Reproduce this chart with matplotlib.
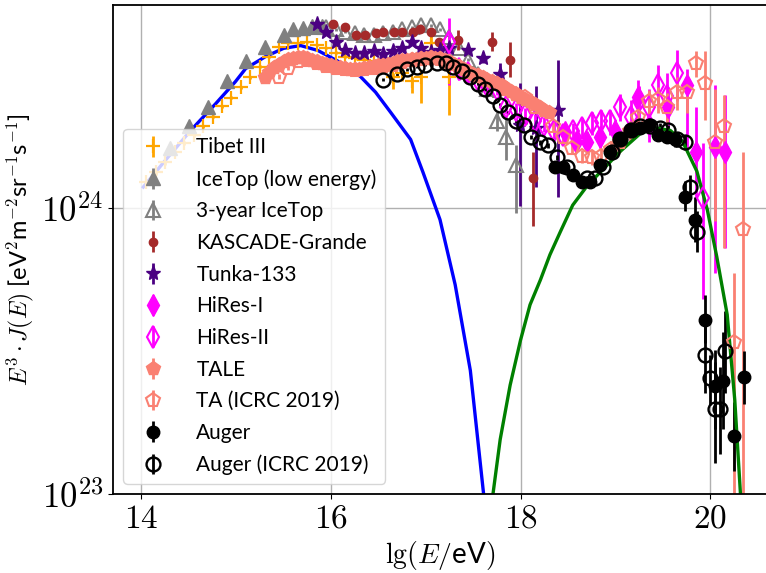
import numpy as np
import matplotlib
matplotlib.use('Agg')
import matplotlib.pyplot as plt

plt.rcParams['mathtext.fontset'] = 'cm'
plt.rcParams['font.family'] = ['Lato', 'DejaVu Sans']

S = 1e24  # values below are in units of 1e24 eV^2 m^-2 sr^-1 s^-1

# ---------------- data ----------------
tibet_lgE = [14.05, 14.15, 14.25, 14.35, 14.45, 14.55, 14.65, 14.75, 14.85, 14.95, 15.05, 15.15,
             15.25, 15.35, 15.45, 15.55, 15.65, 15.75, 15.85, 15.95, 16.05, 16.15, 16.25, 16.35,
             16.45, 16.55, 16.65, 16.75, 16.85, 16.95, 17.05, 17.25]
tibet_val = [1.23, 1.33, 1.44, 1.56, 1.68, 1.80, 1.92, 2.08, 2.26, 2.42, 2.63, 2.85,
             3.11, 3.37, 3.65, 3.77, 3.77, 3.80, 3.71, 3.62, 3.48, 3.37, 3.34, 3.29,
             3.24, 3.14, 2.85, 2.96, 2.76, 2.87, 3.77, 2.85]
tibet_lo = [0.03, 0.03, 0.03, 0.03, 0.03, 0.03, 0.03, 0.03, 0.03, 0.03, 0.03, 0.03,
            0.03, 0.03, 0.03, 0.03, 0.03, 0.03, 0.03, 0.03, 0.03, 0.04, 0.05, 0.05,
            0.06, 0.10, 0.25, 0.20, 0.25, 0.55, 0.25, 0.75]
tibet_hi = [0.03, 0.03, 0.03, 0.03, 0.03, 0.03, 0.03, 0.03, 0.03, 0.03, 0.03, 0.03,
            0.03, 0.03, 0.03, 0.03, 0.03, 0.03, 0.03, 0.03, 0.03, 0.04, 0.05, 0.05,
            0.06, 0.10, 0.10, 0.10, 0.10, 0.15, 0.30, 0.35]

icetop_lgE = [14.3, 14.5, 14.7, 14.9, 15.1, 15.3, 15.5, 15.6, 15.7, 15.8, 15.9]
icetop_val = [1.62, 1.92, 2.25, 2.76, 3.24, 3.65, 4.02, 4.20, 4.25, 4.30, 4.30]

icetop3_lgE = [15.85, 15.95, 16.05, 16.15, 16.25, 16.35, 16.45, 16.55, 16.65, 16.75, 16.85,
               16.95, 17.05, 17.15, 17.25, 17.35, 17.45, 17.55, 17.65, 17.75, 17.85, 17.95]
icetop3_val = [4.26, 4.26, 4.19, 4.12, 4.06, 4.02, 4.02, 4.06, 4.12, 4.19, 4.26,
               4.33, 4.33, 4.19, 3.93, 3.62, 3.29, 2.92, 2.59, 2.00, 1.77, 1.41]
icetop3_lo = [0.05] * 17 + [0.10, 0.15, 0.15, 0.30, 0.45]
icetop3_hi = [0.05] * 17 + [0.10, 0.15, 0.15, 0.30, 0.25]

kg_lgE = [16.02, 16.15, 16.26, 16.36, 16.47, 16.55, 16.66, 16.75, 16.86, 16.94, 17.05, 17.14,
          17.34, 17.70, 17.89, 18.13]
kg_val = [4.37, 4.26, 4.02, 4.02, 4.06, 4.09, 4.12, 4.09, 4.12, 4.19, 4.12, 3.78,
          3.86, 3.78, 3.27, 1.27]
kg_lo = [0.05] * 12 + [0.30, 0.25, 0.40, 0.41]
kg_hi = [0.05] * 12 + [0.30, 0.31, 0.51, 0.29]

tunka_lgE = [15.85, 15.95, 16.05, 16.15, 16.25, 16.35, 16.45, 16.55, 16.65, 16.75, 16.85,
             16.95, 17.05, 17.15, 17.25, 17.45, 17.60, 17.78, 17.99, 18.16, 18.40]
tunka_val = [4.37, 4.12, 3.78, 3.56, 3.48, 3.48, 3.51, 3.43, 3.51, 3.62, 3.78,
             3.60, 3.50, 3.55, 3.62, 3.56, 3.34, 2.93, 1.95, 1.90, 2.20]
tunka_lo = [0.05] * 15 + [0.10, 0.15, 0.33, 0.94, 0.72, 1.11]
tunka_hi = [0.05] * 15 + [0.10, 0.15, 0.27, 0.78, 0.75, 1.09]

hires1_lgE = [18.47, 18.58, 18.70, 18.84, 19.00, 19.24, 19.35, 19.56, 19.76, 19.85, 20.05, 20.16]
hires1_val = [1.84, 1.69, 1.70, 1.76, 1.85, 2.44, 1.95, 2.24, 2.69, 1.56, 1.63, 1.56]
hires1_lo = [0.12, 0.12, 0.13, 0.15, 0.18, 0.36, 0.25, 0.35, 1.13, 0.49, 1.04, 0.84]
hires1_hi = [0.12, 0.12, 0.13, 0.15, 0.18, 0.36, 0.25, 0.40, 0.35, 0.68, 1.06, 0.92]

hires2_lgE = [17.25, 17.35, 17.45, 17.55, 17.65, 17.75, 17.85, 17.95, 18.05, 18.15, 18.25,
              18.35, 18.45, 18.55, 18.65, 18.75, 18.85, 18.94, 19.05, 19.16, 19.25, 19.35,
              19.45, 19.55, 19.65, 19.93]
hires2_val = [3.78, 3.05, 2.95, 2.80, 2.65, 2.60, 2.25, 2.20, 2.10, 2.00, 1.95,
              1.85, 1.80, 1.85, 1.90, 1.98, 2.00, 2.00, 2.25, 2.08, 2.35, 2.25,
              2.69, 2.45, 2.96, 1.08]
hires2_lo = [1.10, 0.25, 0.20, 0.15, 0.15, 0.12, 0.12, 0.12, 0.12, 0.12, 0.12,
             0.12, 0.12, 0.12, 0.15, 0.18, 0.20, 0.20, 0.25, 0.30, 0.30, 0.35,
             0.45, 0.50, 0.60, 0.60]
hires2_hi = [0.80, 0.25, 0.20, 0.15, 0.15, 0.12, 0.12, 0.12, 0.12, 0.12, 0.12,
             0.12, 0.12, 0.12, 0.15, 0.18, 0.20, 0.20, 0.25, 0.30, 0.30, 0.35,
             0.45, 0.50, 0.60, 0.60]

tale_lgE = [15.30, 15.35, 15.40, 15.45, 15.50, 15.55, 15.60, 15.65, 15.70, 15.75, 15.80, 15.85,
            15.90, 15.95, 16.00, 16.05, 16.10, 16.15, 16.20, 16.25, 16.30, 16.35, 16.40, 16.45,
            16.50, 16.55, 16.60, 16.65, 16.70, 16.75, 16.80, 16.85, 16.90, 16.95, 17.00, 17.05,
            17.10, 17.15, 17.20, 17.25, 17.30, 17.35, 17.40, 17.45, 17.50, 17.55, 17.60, 17.65,
            17.70, 17.75, 17.80, 17.85, 17.90, 17.95, 18.00, 18.05, 18.10, 18.15, 18.20, 18.25,
            18.30]
tale_val = [2.85, 2.98, 3.09, 3.17, 3.24, 3.30, 3.34, 3.36, 3.37, 3.33, 3.29, 3.25,
            3.21, 3.18, 3.14, 3.11, 3.09, 3.07, 3.06, 3.05, 3.06, 3.08, 3.09, 3.12,
            3.14, 3.16, 3.18, 3.21, 3.24, 3.27, 3.29, 3.30, 3.31, 3.33, 3.34, 3.35,
            3.34, 3.32, 3.29, 3.24, 3.18, 3.12, 3.06, 3.00, 2.94, 2.90, 2.85, 2.80,
            2.76, 2.72, 2.67, 2.62, 2.56, 2.50, 2.44, 2.40, 2.35, 2.30, 2.24, 2.20,
            2.15]
tale_relerr = [0.025] * 40 + [0.035] * 12 + [0.045] * 9

ta_lgE = [15.45, 15.55, 15.65, 15.75, 15.85, 15.95, 16.05, 16.15, 16.25, 16.35, 16.45, 16.55,
          16.65, 16.75, 16.85, 16.95, 17.05, 17.15, 17.25, 17.35, 17.45, 17.55, 17.65, 17.75,
          17.85, 17.95, 18.05, 18.15, 18.34, 18.45, 18.54, 18.65, 18.75, 18.85, 18.95, 19.05,
          19.15, 19.24, 19.35, 19.45, 19.55, 19.65, 19.76, 19.85, 19.95, 20.05, 20.15, 20.25,
          20.35]
ta_val = [2.87, 3.07, 3.25, 3.28, 3.20, 3.13, 3.08, 3.04, 3.03, 3.05, 3.08, 3.12,
          3.16, 3.22, 3.27, 3.30, 3.32, 3.30, 3.22, 3.10, 2.98, 2.88, 2.78, 2.70,
          2.60, 2.50, 2.44, 2.25, 1.92, 1.76, 1.62, 1.51, 1.50, 1.52, 1.60, 1.70,
          1.85, 2.08, 2.35, 2.39, 2.24, 2.53, 2.54, 3.21, 2.73, 1.70, 1.92, 0.34,
          0.84]
ta_lo = [0.05] * 26 + [0.07, 0.08, 0.07, 0.07, 0.07, 0.08, 0.09, 0.10, 0.11, 0.13,
                       0.15, 0.18, 0.22, 0.25, 0.28, 0.33, 0.40, 0.34, 0.70, 0.80, 1.20, 0.24,
                       0.74]
ta_hi = [0.05] * 26 + [0.07, 0.08, 0.07, 0.07, 0.07, 0.08, 0.09, 0.10, 0.11, 0.13,
                       0.15, 0.18, 0.22, 0.25, 0.28, 0.33, 0.40, 0.30, 0.80, 0.90, 0.56, 0.25,
                       0.73]

auger_lgE = [18.36, 18.45, 18.55, 18.65, 18.73, 18.84, 18.94, 19.05, 19.16, 19.26, 19.35,
             19.45, 19.55, 19.63, 19.74, 19.84, 19.95, 20.05, 20.14, 20.25, 20.36]
auger_val = [1.39, 1.39, 1.30, 1.23, 1.23, 1.41, 1.56, 1.73, 1.87, 1.90, 1.95,
             1.80, 1.77, 1.73, 1.09, 0.908, 0.406, 0.239, 0.248, 0.160, 0.256]
auger_lo = [0.02, 0.02, 0.02, 0.02, 0.02, 0.03, 0.03, 0.03, 0.04, 0.05, 0.06,
            0.07, 0.08, 0.10, 0.12, 0.15, 0.07, 0.07, 0.08, 0.04, 0.05]
auger_hi = [0.02, 0.02, 0.02, 0.02, 0.02, 0.03, 0.03, 0.03, 0.04, 0.05, 0.06,
            0.07, 0.08, 0.10, 0.15, 0.18, 0.09, 0.08, 0.12, 0.05, 0.06]

augicrc_lgE = [16.55, 16.70, 16.80, 16.91, 16.99, 17.12, 17.21, 17.29, 17.38, 17.47, 17.55,
               17.63, 17.71, 17.78, 17.87, 17.95, 18.04, 18.11, 18.21, 18.29, 18.38, 18.49,
               18.70, 18.79, 18.87, 18.96, 19.05, 19.16, 19.26, 19.37, 19.47, 19.56, 19.65,
               19.74, 19.79, 19.86, 19.95, 20.00, 20.05, 20.10, 20.16]
augicrc_val = [2.80, 2.92, 3.04, 3.11, 3.16, 3.21, 3.19, 3.09, 2.99, 2.87, 2.71,
               2.59, 2.46, 2.29, 2.15, 2.01, 1.95, 1.77, 1.69, 1.65, 1.50, 1.39,
               1.27, 1.27, 1.39, 1.56, 1.73, 1.87, 1.92, 1.92, 1.90, 1.87, 1.73,
               1.69, 1.18, 0.82, 0.306, 0.255, 0.198, 0.198, 0.316]
augicrc_lo = [0.03] * 22 + [0.02, 0.02, 0.03, 0.03, 0.03, 0.04, 0.05, 0.06, 0.07, 0.08,
                            0.10, 0.10, 0.10, 0.12, 0.08, 0.05, 0.07, 0.06, 0.09]
augicrc_hi = [0.03] * 22 + [0.02, 0.02, 0.03, 0.03, 0.03, 0.04, 0.05, 0.06, 0.07, 0.08,
                            0.10, 0.10, 0.12, 0.15, 0.10, 0.05, 0.09, 0.08, 0.12]

gal_lgE = [14.02, 14.25, 14.52, 14.78, 14.99, 15.10, 15.31, 15.50, 15.68, 15.86, 16.10, 16.31,
           16.47, 16.63, 16.84, 16.97, 17.15, 17.31, 17.47, 17.61, 17.66]
gal_val = [1.18, 1.46, 1.86, 2.30, 2.75, 3.06, 3.37, 3.60, 3.68, 3.54, 3.21, 2.87,
           2.53, 2.15, 1.73, 1.33, 0.908, 0.538, 0.27, 0.10, 0.08]

xgal_lgE = [17.70, 17.785, 17.89, 18.00, 18.10, 18.21, 18.31, 18.42, 18.55, 18.71, 18.87,
            19.05, 19.26, 19.42, 19.58, 19.71, 19.86, 19.97, 20.07, 20.18, 20.26, 20.32]
xgal_val = [0.095, 0.155, 0.24, 0.345, 0.458, 0.56, 0.685, 0.824, 1.02, 1.20, 1.36,
            1.57, 1.81, 1.90, 1.86, 1.70, 1.34, 0.984, 0.674, 0.423, 0.213, 0.10]

# ---------------- plot ----------------
fig = plt.figure(figsize=(7.66, 5.73), dpi=100)
ax = fig.add_axes([113 / 766, (573 - 494) / 573, 654 / 766, (494 - 5) / 573])


def eb(x, v, lo, hi, label, **kw):
    v = np.asarray(v) * S
    yerr = [np.asarray(lo) * S, np.asarray(hi) * S]
    ax.errorbar(x, v, yerr=yerr, linestyle='none', capsize=0, elinewidth=2, label=label, **kw)


eb(tibet_lgE, tibet_val, tibet_lo, tibet_hi, 'Tibet III', marker='+', color='orange',
   markersize=10, markeredgewidth=1.6)
eb(icetop_lgE, icetop_val, [0.03] * len(icetop_val), [0.03] * len(icetop_val),
   'IceTop (low energy)', marker='^', color='gray', markersize=10)
eb(icetop3_lgE, icetop3_val, icetop3_lo, icetop3_hi, '3-year IceTop', marker='^', color='gray',
   markersize=10, markerfacecolor='none', markeredgewidth=1.5)
eb(kg_lgE, kg_val, kg_lo, kg_hi, 'KASCADE-Grande', marker='o', color='brown', markersize=6)
eb(tunka_lgE, tunka_val, tunka_lo, tunka_hi, 'Tunka-133', marker='*', color='indigo',
   markersize=11)
eb(hires1_lgE, hires1_val, hires1_lo, hires1_hi, 'HiRes-I', marker='d', color='magenta',
   markersize=11)
eb(hires2_lgE, hires2_val, hires2_lo, hires2_hi, 'HiRes-II', marker='d', color='magenta',
   markersize=11, markerfacecolor='none', markeredgewidth=1.5)
tv = np.asarray(tale_val)
te = tv * np.asarray(tale_relerr)
eb(tale_lgE, tale_val, te, te, 'TALE', marker='p', color='salmon', markersize=10)
eb(ta_lgE, ta_val, ta_lo, ta_hi, 'TA (ICRC 2019)', marker='p', color='salmon', markersize=10,
   markerfacecolor='none', markeredgewidth=1.5)
eb(auger_lgE, auger_val, auger_lo, auger_hi, 'Auger', marker='o', color='black', markersize=9)
eb(augicrc_lgE, augicrc_val, augicrc_lo, augicrc_hi, 'Auger (ICRC 2019)', marker='o',
   color='black', markersize=10, markerfacecolor='none', markeredgewidth=1.7)

ax.plot(gal_lgE, np.asarray(gal_val) * S, color='blue', lw=2.4)
ax.plot(xgal_lgE, np.asarray(xgal_val) * S, color='green', lw=2.4)

ax.set_yscale('log')
ax.set_xlim(13.7, 20.6)
ax.set_ylim(1e23, 5.1e24)
ax.set_xticks([14, 16, 18, 20])
ax.set_xticklabels([r'$14$', r'$16$', r'$18$', r'$20$'], fontsize=24)
ax.set_yticks([1e23, 1e24])
ax.set_yticklabels([r'$10^{23}$', r'$10^{24}$'], fontsize=25)
ax.yaxis.set_minor_locator(matplotlib.ticker.NullLocator())
ax.grid(True, color='#b0b0b0', lw=1)
ax.set_axisbelow(True)
for s in ax.spines.values():
    s.set_linewidth(1.3)

ax.set_xlabel(r'$\mathrm{lg}(E/$eV$)$', fontsize=20, labelpad=4)
ax.set_ylabel(r'$E^3\cdot J(E)$ [eV$^2$m$^{-2}$sr$^{-1}$s$^{-1}$]', fontsize=17, labelpad=4)

ax.legend(loc='lower left', fontsize=15, framealpha=0.8, handletextpad=1.1,
          labelspacing=0.56)

fig.savefig('out.png', dpi=100)
